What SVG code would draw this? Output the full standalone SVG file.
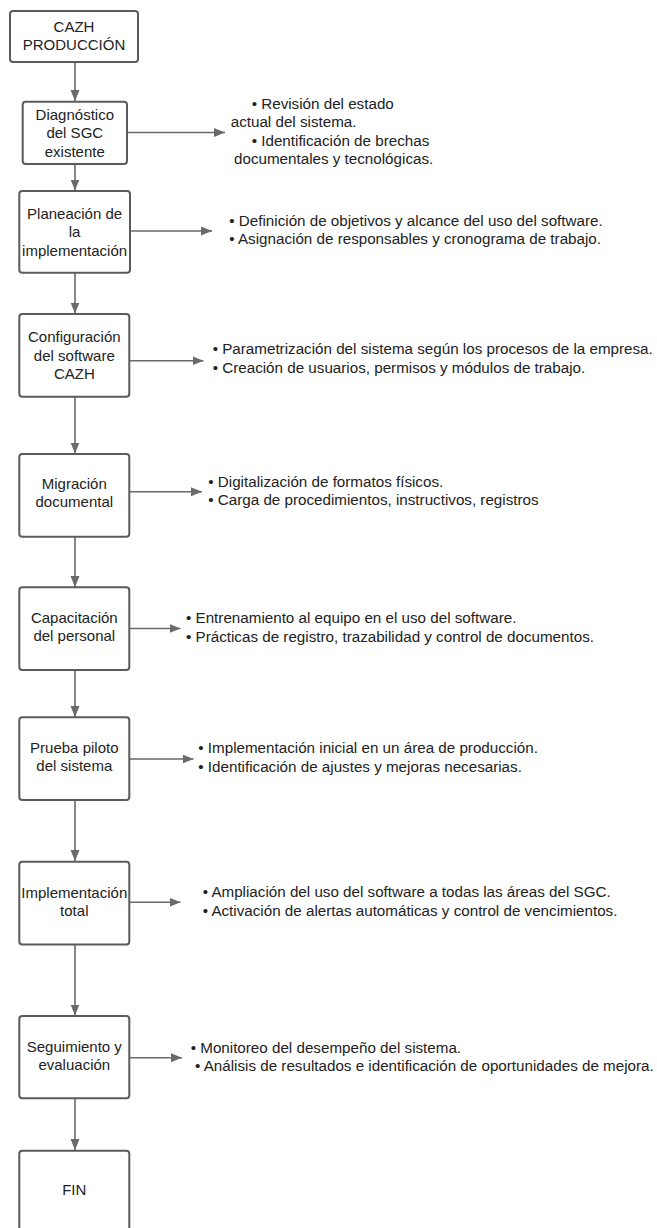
<svg xmlns="http://www.w3.org/2000/svg" width="657" height="1228" viewBox="0 0 657 1228">
<style>
.box{fill:#fff;stroke:#5b5b5b;stroke-width:2}
.t{font-family:"Liberation Sans",Arial,sans-serif;font-size:15px;fill:#222}
.s{font-size:15.2px}
.c{text-anchor:middle}
.con{stroke:#6a6a6a;stroke-width:1.6;fill:none}
</style>
<defs>
<marker id="ah" markerUnits="userSpaceOnUse" markerWidth="12" markerHeight="10" refX="11" refY="4.5" orient="auto">
<path d="M0,0 L11,4.5 L0,9 z" fill="#6a6a6a"/>
</marker>
</defs>
<rect width="657" height="1228" fill="#fff"/>
<g id="connectors">
<line class="con" x1="75" y1="62" x2="75" y2="101" marker-end="url(#ah)"/>
<line class="con" x1="75" y1="164" x2="75" y2="190.5" marker-end="url(#ah)"/>
<line class="con" x1="75" y1="273" x2="75" y2="313.5" marker-end="url(#ah)"/>
<line class="con" x1="75" y1="397" x2="75" y2="453.5" marker-end="url(#ah)"/>
<line class="con" x1="75" y1="537" x2="75" y2="587" marker-end="url(#ah)"/>
<line class="con" x1="75" y1="670" x2="75" y2="717" marker-end="url(#ah)"/>
<line class="con" x1="75" y1="800" x2="75" y2="861" marker-end="url(#ah)"/>
<line class="con" x1="75" y1="944.5" x2="75" y2="1015.5" marker-end="url(#ah)"/>
<line class="con" x1="75" y1="1098.5" x2="75" y2="1150" marker-end="url(#ah)"/>
<line class="con" x1="127" y1="132.5" x2="225" y2="132.5" marker-end="url(#ah)"/>
<line class="con" x1="130" y1="231" x2="212" y2="231" marker-end="url(#ah)"/>
<line class="con" x1="129.5" y1="360.7" x2="203.5" y2="360.7" marker-end="url(#ah)"/>
<line class="con" x1="129.5" y1="491.7" x2="202" y2="491.7" marker-end="url(#ah)"/>
<line class="con" x1="129.5" y1="628.5" x2="180.5" y2="628.5" marker-end="url(#ah)"/>
<line class="con" x1="129.5" y1="759" x2="193.5" y2="759" marker-end="url(#ah)"/>
<line class="con" x1="129.5" y1="902.3" x2="180.5" y2="902.3" marker-end="url(#ah)"/>
<line class="con" x1="129.5" y1="1057.7" x2="182" y2="1057.7" marker-end="url(#ah)"/>
</g>
<g id="n1">
<rect class="box" x="10" y="11" width="128" height="51" rx="3"/>
<text class="t c" x="74" y="32">CAZH</text>
<text class="t c" x="74" y="49.5">PRODUCCIÓN</text>
</g>
<g id="n2">
<rect class="box" x="22.7" y="101.7" width="104.3" height="62.3" rx="3"/>
<text class="t c" x="74.8" y="119.5">Diagnóstico</text>
<text class="t c" x="74.8" y="138">del SGC</text>
<text class="t c" x="74.8" y="157">existente</text>
</g>
<g id="d2">
<text class="t s" x="251.7" y="109">• Revisión del estado</text>
<text class="t s" x="230.7" y="127.3">actual del sistema.</text>
<text class="t s" x="251.7" y="145.7">• Identificación de brechas</text>
<text class="t s" x="234" y="164">documentales y tecnológicas.</text>
</g>
<g id="n3">
<rect class="box" x="19.3" y="191" width="110.7" height="81.7" rx="3"/>
<text class="t c" x="74.6" y="218.5">Planeación de</text>
<text class="t c" x="74.6" y="237">la</text>
<text class="t c" x="74.6" y="255.5">implementación</text>
</g>
<g id="d3">
<text class="t s" x="229.3" y="225.7">• Definición de objetivos y alcance del uso del software.</text>
<text class="t s" x="229.3" y="244">• Asignación de responsables y cronograma de trabajo.</text>
</g>
<g id="n4">
<rect class="box" x="19.3" y="314" width="110" height="82.7" rx="3"/>
<text class="t c" x="74.3" y="342">Configuración</text>
<text class="t c" x="74.3" y="360.5">del software</text>
<text class="t c" x="74.3" y="378.5">CAZH</text>
</g>
<g id="d4">
<text class="t s" x="212.7" y="354.3">• Parametrización del sistema según los procesos de la empresa.</text>
<text class="t s" x="212.7" y="372.7">• Creación de usuarios, permisos y módulos de trabajo.</text>
</g>
<g id="n5">
<rect class="box" x="19.3" y="454" width="110" height="82.7" rx="3"/>
<text class="t c" x="74.3" y="488.5">Migración</text>
<text class="t c" x="74.3" y="507">documental</text>
</g>
<g id="d5">
<text class="t s" x="208.3" y="486.7">• Digitalización de formatos físicos.</text>
<text class="t s" x="208.3" y="505">• Carga de procedimientos, instructivos, registros</text>
</g>
<g id="n6">
<rect class="box" x="19.3" y="587.3" width="110" height="82.7" rx="3"/>
<text class="t c" x="74.3" y="622.5">Capacitación</text>
<text class="t c" x="74.3" y="640.5">del personal</text>
</g>
<g id="d6">
<text class="t s" x="186" y="623.3">• Entrenamiento al equipo en el uso del software.</text>
<text class="t s" x="186" y="641.7">• Prácticas de registro, trazabilidad y control de documentos.</text>
</g>
<g id="n7">
<rect class="box" x="19.3" y="717.3" width="110" height="82.7" rx="3"/>
<text class="t c" x="74.3" y="753">Prueba piloto</text>
<text class="t c" x="74.3" y="771">del sistema</text>
</g>
<g id="d7">
<text class="t s" x="198.3" y="753.3">• Implementación inicial en un área de producción.</text>
<text class="t s" x="198.3" y="771.7">• Identificación de ajustes y mejoras necesarias.</text>
</g>
<g id="n8">
<rect class="box" x="19.3" y="861.7" width="110" height="82.7" rx="3"/>
<text class="t c" x="74.3" y="897.5">Implementación</text>
<text class="t c" x="74.3" y="915.5">total</text>
</g>
<g id="d8">
<text class="t s" x="202.7" y="897.3">• Ampliación del uso del software a todas las áreas del SGC.</text>
<text class="t s" x="202.7" y="915.7">• Activación de alertas automáticas y control de vencimientos.</text>
</g>
<g id="n9">
<rect class="box" x="19.3" y="1016" width="110" height="82.3" rx="3"/>
<text class="t c" x="74.3" y="1052">Seguimiento y</text>
<text class="t c" x="74.3" y="1070">evaluación</text>
</g>
<g id="d9">
<text class="t s" x="190.7" y="1052.7">• Monitoreo del desempeño del sistema.</text>
<text class="t s" x="195" y="1071">• Análisis de resultados e identificación de oportunidades de mejora.</text>
</g>
<g id="n10">
<rect class="box" x="19.3" y="1150.7" width="110" height="100" rx="3"/>
<text class="t c" x="74.3" y="1194.5">FIN</text>
</g>
</svg>
